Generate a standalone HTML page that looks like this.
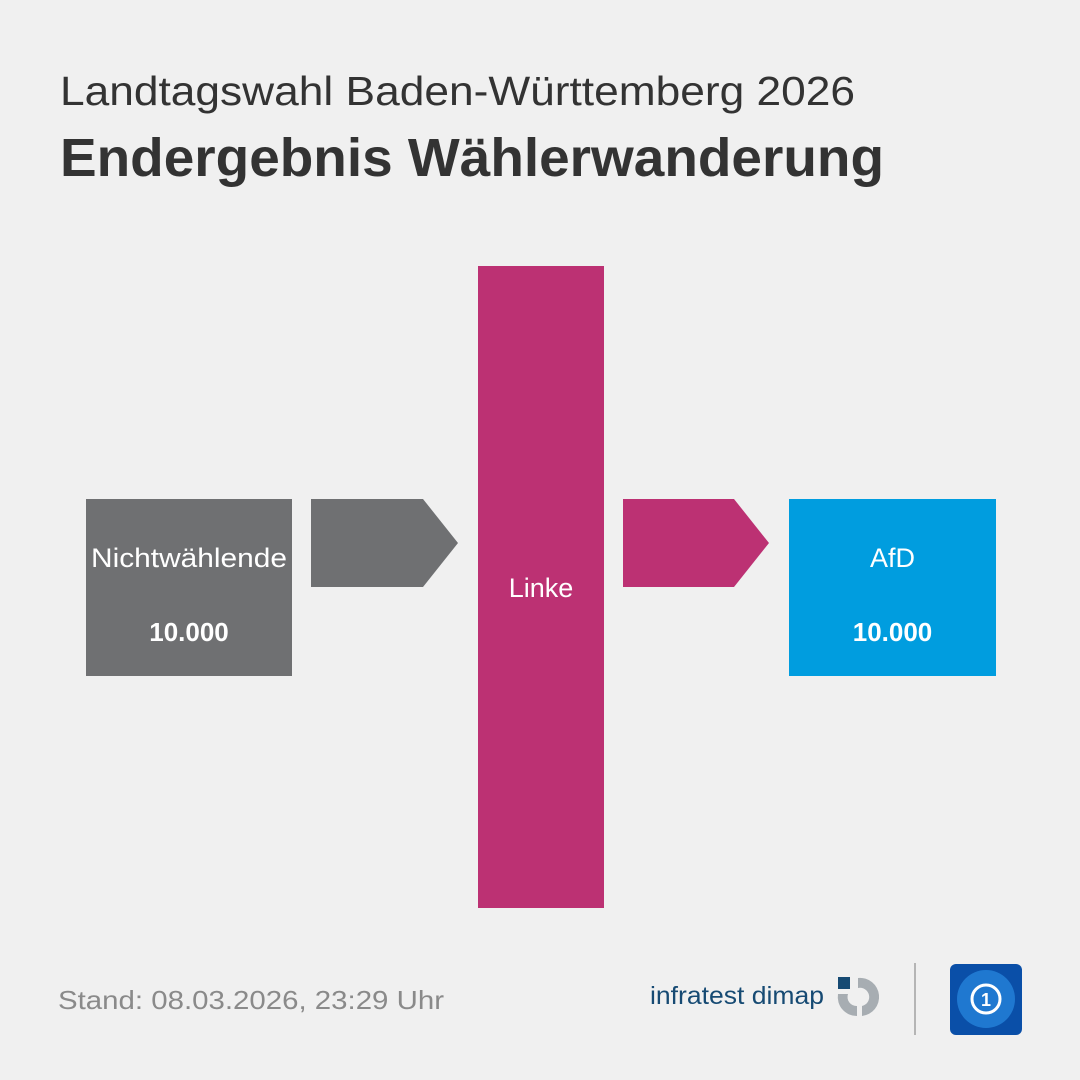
<!DOCTYPE html>
<html><head><meta charset="utf-8"><style>
html,body{margin:0;padding:0;background:#f0f0f0;}
svg{display:block;font-family:"Liberation Sans",sans-serif;}
</style></head><body>
<svg id="chart" width="1080" height="1080" viewBox="0 0 1080 1080">
<rect width="1080" height="1080" fill="#f0f0f0"/>
<text x="60" y="105" font-size="41" fill="#333" textLength="795" lengthAdjust="spacingAndGlyphs">Landtagswahl Baden-Württemberg 2026</text>
<text x="60" y="176" font-size="54" font-weight="bold" fill="#333" textLength="824" lengthAdjust="spacingAndGlyphs">Endergebnis Wählerwanderung</text>
<g id="flows"></g>
<text x="58" y="1009" font-size="26" fill="#8a8a8a" textLength="386" lengthAdjust="spacingAndGlyphs">Stand:  08.03.2026, 23:29 Uhr</text>
<g>
<text x="650" y="1004" font-size="25" fill="#164a73" textLength="174" lengthAdjust="spacingAndGlyphs">infratest dimap</text>
<rect x="838" y="977" width="12" height="12" fill="#164a73"/>
<path d="M838 994 A19 19 0 0 0 857 1016 L857 1006 A9 9 0 0 1 848 994 Z" fill="#a7adb2"/>
<path d="M858 978 A19 19 0 0 1 862 1016 L862 1006 A9 9 0 0 0 858 988 Z" fill="#a7adb2"/>
</g>
<rect x="914" y="963" width="2" height="72" fill="#b5b5b5"/>
<g>
<rect x="950" y="964" width="72" height="71" rx="6" fill="#0a4fa8"/>
<circle cx="986" cy="999" r="29" fill="#1f78d0"/>
<circle cx="986" cy="999" r="14" fill="none" stroke="#fff" stroke-width="3"/>
<text x="986" y="1006" font-size="18" font-weight="bold" fill="#fff" text-anchor="middle">1</text>
</g>
</svg>
<script>
const nodeNames = ["Nichtwählende", "Linke", "AfD"];
const nodeValues = ["10.000", "", "10.000"];
const nodeColors = ["#6f7072", "#bc3173", "#009ddf"];
const flowFrom = [0, 1];
const flowTo = [1, 2];
const NS = "http://www.w3.org/2000/svg";
const g = document.getElementById("flows");
function mk(tag, attrs){const e=document.createElementNS(NS,tag);for(const k in attrs)e.setAttribute(k,attrs[k]);g.appendChild(e);return e;}
// layout
const boxes = [
  {x:86,y:499,w:206,h:177},
  {x:478,y:266,w:126,h:642},
  {x:789,y:499,w:207,h:177}
];
nodeNames.forEach((n,i)=>{
  const b=boxes[i];
  const r=mk("rect",{x:b.x,y:b.y,width:b.w,height:b.h,fill:nodeColors[i]});
  
  
  const hasVal = nodeValues[i] !== "";
  const t=mk("text",{x:b.x+b.w/2,y:hasVal?567:597,"font-size":27,fill:"#fff","text-anchor":"middle"});
  t.textContent=n;
  if(n.length>10){t.setAttribute("textLength",196);t.setAttribute("lengthAdjust","spacingAndGlyphs");}
  
  
  if(hasVal){
    const v=mk("text",{x:b.x+b.w/2,y:641,"font-size":26,"font-weight":"bold",fill:"#fff","text-anchor":"middle"});
    v.textContent=nodeValues[i];
    
    
  }
});
flowFrom.forEach((f,k)=>{
  const a=boxes[f], b=boxes[flowTo[k]];
  const x0=a.x+a.w+19, x2=b.x-20, x1=x2-35, y0=499, y1=587, ym=(y0+y1)/2;
  const p=mk("path",{d:`M${x0} ${y0} L${x1} ${y0} L${x2} ${ym} L${x1} ${y1} L${x0} ${y1} Z`,fill:nodeColors[f]});
  
  
});
</script>
</body></html>
